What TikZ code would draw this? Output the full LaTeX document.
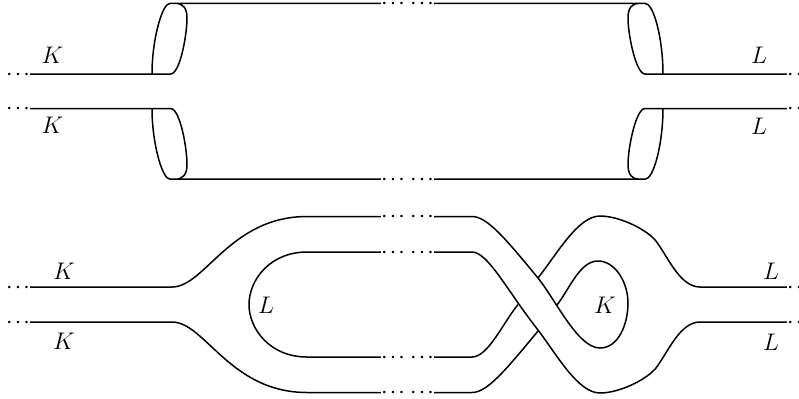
\documentclass[tikz,border=0pt]{standalone}
\usepackage{amsmath,amssymb}
\usepackage{tikz}
\newcommand{\gapdots}{{\boldmath$\mathinner{\cdotp\cdotp\cdotp}$}}
\begin{document}
\begin{tikzpicture}[
  x=0.5pt, y=-0.5pt,
  line width=0.75pt,
  gap/.style={inner sep=0pt, text height=4pt, text depth=0pt, font=\footnotesize},
  lab/.style={inner sep=0pt, font=\large},
]
  \useasboundingbox (0,0) rectangle (799,398);
  % open ends, left
  \node[gap] (ka) at (18,74)  {\gapdots};
  \node[gap] (kb) at (18,108.5) {\gapdots};
  \node[gap] (kc) at (18,287) {\gapdots};
  \node[gap] (kd) at (18,322) {\gapdots};
  % open ends, right
  \node[gap] (la) at (799,74)  {\gapdots};
  \node[gap] (lb) at (799,108.5) {\gapdots};
  \node[gap] (lc) at (799,287) {\gapdots};
  \node[gap] (ld) at (799,322) {\gapdots};
  % breaks in the middle
  \node[gap] (ta)  at (393,3.3)   {\gapdots};
  \node[gap] (tb)  at (422,3.3)   {\gapdots};
  \node[gap] (ba)  at (393,179.2) {\gapdots};
  \node[gap] (bb)  at (422,179.2) {\gapdots};
  \node[gap] (ua)  at (393,216.5) {\gapdots};
  \node[gap] (ub)  at (422,216.5) {\gapdots};
  \node[gap] (va)  at (393,252)   {\gapdots};
  \node[gap] (vb)  at (422,252)   {\gapdots};
  \node[gap] (wa)  at (393,357)   {\gapdots};
  \node[gap] (wb)  at (422,357)   {\gapdots};
  \node[gap] (xa)  at (393,392.5) {\gapdots};
  \node[gap] (xb)  at (422,392.5) {\gapdots};
  % labels
  \node[lab] (k1) at (52.5,55)  {$K$};
  \node[lab] (k2) at (52.5,125) {$K$};
  \node[lab] (l1) at (759,55)  {$L$};
  \node[lab] (l2) at (759,126) {$L$};
  \node[lab] (k3) at (64,271)  {$K$};
  \node[lab] (k4) at (64,341)  {$K$};
  \node[lab] (l3) at (771,271) {$L$};
  \node[lab] (l4) at (771,342) {$L$};
  \node[lab] (l5) at (266,305) {$L$};
  \node[lab] (k5) at (605,305) {$K$};
  % upper pair of tubes
  \draw (ka) -- (170.5,74) .. controls (180,74) and (187,35) .. (187,18)
    .. controls (187,8) and (183,3.3) .. (175,3.3) -- (ta);
  \draw (152,74) .. controls (152,40) and (162,3.3) .. (170,3.3) -- (175,3.3);
  \draw (kb) -- (170.5,108.5) .. controls (180,108.5) and (187,147.5) .. (187,164.5)
    .. controls (187,174.5) and (183,179.2) .. (175,179.2) -- (ba);
  \draw (152,108.5) .. controls (152,142.5) and (162,179.2) .. (170,179.2) -- (175,179.2);
  \draw (la) -- (645,74) .. controls (636,74) and (628,35) .. (628,18)
    .. controls (628,8) and (632,3.3) .. (639,3.3) -- (tb);
  \draw (663,74) .. controls (663,40) and (654,3.3) .. (645,3.3) -- (639,3.3);
  \draw (lb) -- (645,108.5) .. controls (636,108.5) and (628,147.5) .. (628,164.5)
    .. controls (628,174.5) and (632,179.2) .. (639,179.2) -- (bb);
  \draw (663,108.5) .. controls (663,142.5) and (654,179.2) .. (645,179.2) -- (639,179.2);
  % lower part, left side
  \draw (kc) -- (172,287) .. controls (205,287) and (230,216.5) .. (307,216.5) -- (ua);
  \draw (kd) -- (172,322) .. controls (205,322) and (230,392.5) .. (307,392.5) -- (xa);
  \draw (va) -- (307,252) .. controls (270,252) and (249,280) .. (249,304.5)
    .. controls (249,329) and (270,357) .. (307,357) -- (wa);
  % lower part, crossing
  \draw (ub) -- (472,216.5) .. controls (487,216.5) and (505,238) .. (538,278)
    .. controls (557,302) and (578,348) .. (600,348)
    .. controls (618,348) and (628,325) .. (628,303)
    .. controls (628,282) and (615,261) .. (598,261)
    .. controls (580,261) and (570,288) .. (557,305);
  \draw (vb) -- (472,252) .. controls (488,252) and (508,292) .. (538,330)
    .. controls (557,355) and (578,393) .. (600,393)
    .. controls (618,393) and (645,381) .. (656,368)
    .. controls (668,352) and (680,322) .. (700,322) -- (ld);
  \draw (wb) -- (472,357) .. controls (488,357) and (503,323) .. (518,304.5);
  \draw (xb) -- (472,392.5) .. controls (487,392.5) and (505,371) .. (538,331);
  \draw (538,278) .. controls (557,254) and (578,216) .. (600,216)
    .. controls (618,216) and (645,228) .. (656,241)
    .. controls (668,257) and (680,287) .. (700,287) -- (lc);
\end{tikzpicture}
\end{document}
